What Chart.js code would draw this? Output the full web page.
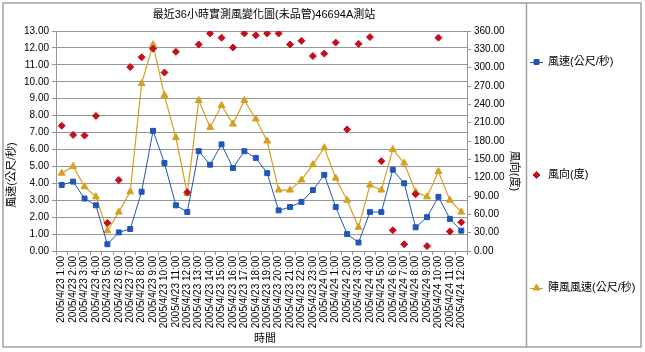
<!DOCTYPE html>
<html>
<head>
<meta charset="utf-8">
<script src="https://cdn.jsdelivr.net/npm/chart.js@4/dist/chart.umd.min.js"></script>
<style>
  body { margin: 0; background: #fff; }
  canvas { display: block; }
</style>
</head>
<body>
<canvas id="wind-chart" width="645" height="352"></canvas>
<script>
const labels = [
  '2005/4/23 1:00', '2005/4/23 2:00', '2005/4/23 3:00', '2005/4/23 4:00', '2005/4/23 5:00', '2005/4/23 6:00',
  '2005/4/23 7:00', '2005/4/23 8:00', '2005/4/23 9:00', '2005/4/23 10:00', '2005/4/23 11:00', '2005/4/23 12:00',
  '2005/4/23 13:00', '2005/4/23 14:00', '2005/4/23 15:00', '2005/4/23 16:00', '2005/4/23 17:00', '2005/4/23 18:00',
  '2005/4/23 19:00', '2005/4/23 20:00', '2005/4/23 21:00', '2005/4/23 22:00', '2005/4/23 23:00', '2005/4/24 0:00',
  '2005/4/24 1:00', '2005/4/24 2:00', '2005/4/24 3:00', '2005/4/24 4:00', '2005/4/24 5:00', '2005/4/24 6:00',
  '2005/4/24 7:00', '2005/4/24 8:00', '2005/4/24 9:00', '2005/4/24 10:00', '2005/4/24 11:00', '2005/4/24 12:00'
]
const windSpeed = [3.9, 4.1, 3.1, 2.7, 0.4, 1.1, 1.3, 3.5, 7.1, 5.2, 2.7, 2.3, 5.9, 5.1, 6.3, 4.9, 5.9, 5.5,
  4.6, 2.4, 2.6, 2.9, 3.6, 4.5, 2.6, 1.0, 0.5, 2.3, 2.3, 4.8, 4.0, 1.4, 2.0, 3.2, 1.9, 1.2]
const windDir = [205, 190, 189, 221, 46, 116, 301, 317, 331, 292, 326, 96, 338, 356, 349, 333, 356, 353,
  356, 356, 338, 344, 319, 323, 341, 199, 339, 350, 147, 34, 11, 93, 8, 349, 32, 47]
const gust = [4.6, 5.0, 3.8, 3.2, 1.2, 2.3, 3.5, 9.9, 12.2, 9.2, 6.7, 3.4, 8.9, 7.3, 8.6, 7.5, 8.9, 7.8,
  6.5, 3.6, 3.6, 4.2, 5.1, 6.1, 4.3, 3.0, 1.4, 3.9, 3.6, 6.0, 5.2, 3.5, 3.2, 4.7, 3.0, 2.3]

const chartTitle = '最近36小時實測風變化圖(未品管)46694A測站'
const leftTitle = '風速(公尺/秒)'
const rightTitle = '風向(度)'
const bottomTitle = '時間'

const FONT = '"Liberation Sans", "Noto Sans CJK TC", sans-serif'
const BLUE = '#1f56b8'
const RED = '#c4101c'
const GOLD = '#d5a021'
const GRID = '#969696'

// frame, titles and legend drawn around the plot like the old Excel chart
const framePlugin = {
  id: 'frame',
  afterDraw(chart) {
    const ctx = chart.ctx
    ctx.save()
    ctx.strokeStyle = '#a0a0a0'
    ctx.lineWidth = 1.5
    ctx.strokeRect(3, 3, 638, 344)
    ctx.beginPath()
    ctx.moveTo(526.5, 3)
    ctx.lineTo(526.5, 347)
    ctx.stroke()

    ctx.fillStyle = '#000'
    ctx.font = '11px ' + FONT
    ctx.textAlign = 'center'
    ctx.textBaseline = 'middle'
    ctx.fillText(chartTitle, 264, 15)
    ctx.fillText(bottomTitle, 265, 339)

    ctx.save()
    ctx.translate(12, 175)
    ctx.rotate(-Math.PI / 2)
    ctx.fillText(leftTitle, 0, 0)
    ctx.restore()

    ctx.save()
    ctx.translate(514, 171)
    ctx.rotate(Math.PI / 2)
    ctx.fillText(rightTitle, 0, 0)
    ctx.restore()

    // legend
    const items = [
      {text: '風速(公尺/秒)', color: BLUE, style: 'rect', r: 3.5, line: true, y: 62},
      {text: '風向(度)', color: RED, style: 'rectRot', r: 3.5, line: false, y: 175},
      {text: '陣風風速(公尺/秒)', color: GOLD, style: 'triangle', r: 4, line: true, y: 288}
    ]
    items.forEach(item => {
      if (item.line) {
        ctx.strokeStyle = item.color
        ctx.lineWidth = 1
        ctx.beginPath()
        ctx.moveTo(530, item.y + 0.5)
        ctx.lineTo(543, item.y + 0.5)
        ctx.stroke()
      }
      ctx.fillStyle = item.color
      ctx.strokeStyle = item.color
      Chart.helpers.drawPoint(ctx, {pointStyle: item.style, radius: item.r, borderWidth: 1}, 536.5, item.y)
      ctx.fillStyle = '#000'
      ctx.textAlign = 'left'
      ctx.fillText(item.text, 548, item.y)
    })
    ctx.restore()
  }
}

new Chart(document.getElementById('wind-chart'), {
  type: 'line',
  data: {
    labels: labels,
    datasets: [{
      label: '風速(公尺/秒)',
      data: windSpeed,
      yAxisID: 'y',
      borderColor: BLUE,
      backgroundColor: BLUE,
      borderWidth: 1,
      pointStyle: 'rect',
      pointRadius: 3.5,
      pointBorderWidth: 1,
      tension: 0,
      order: 1
    },
    {
      label: '風向(度)',
      data: windDir,
      yAxisID: 'y1',
      showLine: false,
      borderColor: RED,
      backgroundColor: RED,
      pointStyle: 'rectRot',
      pointRadius: 3.5,
      pointBorderWidth: 1,
      order: 0
    },
    {
      label: '陣風風速(公尺/秒)',
      data: gust,
      yAxisID: 'y',
      borderColor: GOLD,
      backgroundColor: GOLD,
      borderWidth: 1.2,
      pointStyle: 'triangle',
      pointRadius: 4,
      pointBorderWidth: 1,
      tension: 0,
      order: 2
    }]
  },
  options: {
    responsive: false,
    animation: false,
    devicePixelRatio: 1,
    layout: {
      padding: {left: 4, right: 118, top: 31, bottom: 5}
    },
    scales: {
      x: {
        offset: true,
        grid: {
          offset: true,
          drawOnChartArea: false,
          color: GRID,
          tickLength: 4
        },
        border: {color: GRID},
        ticks: {
          autoSkip: false,
          minRotation: 90,
          maxRotation: 90,
          padding: 1,
          color: '#000',
          font: {family: FONT, size: 10}
        },
        afterFit(scale) {
          scale.height = 96
        }
      },
      y: {
        position: 'left',
        min: 0,
        max: 13,
        ticks: {
          stepSize: 1,
          padding: 3,
          color: '#000',
          font: {family: FONT, size: 10},
          callback: value => value.toFixed(2)
        },
        grid: {color: GRID, tickLength: 4},
        border: {color: GRID},
        afterFit(scale) {
          scale.width = 52
        }
      },
      y1: {
        position: 'right',
        min: 0,
        max: 360,
        ticks: {
          stepSize: 30,
          padding: 3,
          color: '#000',
          font: {family: FONT, size: 10},
          callback: value => value.toFixed(2)
        },
        grid: {drawOnChartArea: false, color: GRID, tickLength: 4},
        border: {color: GRID},
        afterFit(scale) {
          scale.width = 60
        }
      }
    },
    plugins: {
      legend: {display: false},
      tooltip: {enabled: false}
    }
  },
  plugins: [framePlugin]
})
</script>
</body>
</html>
